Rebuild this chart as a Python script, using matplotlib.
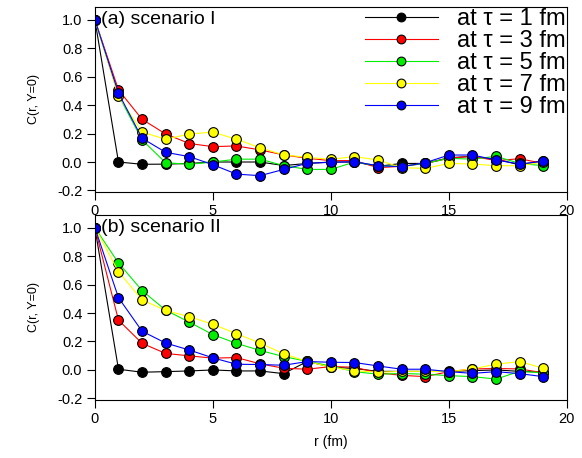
import matplotlib
matplotlib.use('Agg')
import matplotlib.pyplot as plt

plt.rcParams['font.family'] = ['Liberation Sans', 'DejaVu Sans']

r = list(range(20))
taus = [1, 3, 5, 7, 9]
colors = ['black', 'red', '#00ee00', 'yellow', 'blue']

# scenario I
a_t1 = [1.0, 0.00, -0.016, -0.015, -0.01, 0.0, 0.0, 0.0, -0.025, -0.01, 0.0, 0.0,
        -0.03, -0.01, -0.01, 0.03, 0.04, 0.02, -0.02, 0.01]
a_t3 = [1.0, 0.507, 0.30, 0.197, 0.13, 0.108, 0.113, 0.085, 0.05, 0.026, 0.01, 0.01,
        -0.04, -0.03, -0.01, 0.026, 0.04, 0.01, 0.023, -0.01]
a_t5 = [1.0, 0.47, 0.155, -0.005, -0.016, 0.0, 0.02, 0.02, -0.025, -0.052, -0.052, 0.0,
        -0.026, -0.03, -0.01, 0.026, 0.02, 0.04, -0.01, -0.026]
a_t7 = [1.0, 0.465, 0.21, 0.16, 0.197, 0.21, 0.16, 0.10, 0.05, 0.033, 0.019, 0.038,
        0.014, -0.04, -0.045, -0.01, -0.014, -0.026, -0.026, 0.0]
a_t9 = [1.0, 0.484, 0.167, 0.068, 0.038, -0.019, -0.085, -0.096, -0.052, -0.009, -0.002, 0.002,
        -0.026, -0.033, -0.005, 0.049, 0.049, 0.014, -0.014, 0.005]

# scenario II
b_t1 = [1.0, 0.005, -0.016, -0.012, -0.007, 0.0, -0.007, -0.007, -0.026, 0.06, 0.02, 0.01,
        -0.01, -0.01, -0.01, -0.01, -0.005, 0.0, -0.01, -0.015]
b_t3 = [1.0, 0.35, 0.187, 0.116, 0.099, 0.083, 0.087, 0.043, 0.012, 0.005, 0.024, 0.019,
        -0.02, -0.038, -0.047, -0.012, 0.007, 0.01, 0.007, -0.02]
b_t5 = [1.0, 0.752, 0.558, 0.42, 0.336, 0.248, 0.187, 0.137, 0.094, 0.06, 0.028, -0.012,
        -0.03, -0.025, -0.03, -0.04, -0.047, -0.064, -0.01, -0.02]
b_t7 = [1.0, 0.69, 0.492, 0.418, 0.374, 0.321, 0.255, 0.189, 0.113, 0.06, 0.019, -0.005,
        -0.016, -0.01, -0.01, -0.012, 0.007, 0.04, 0.059, 0.012]
b_t9 = [1.0, 0.508, 0.272, 0.189, 0.14, 0.085, 0.04, 0.038, 0.033, 0.059, 0.054, 0.052,
        0.028, 0.005, 0.005, -0.012, -0.024, -0.012, -0.026, -0.047]

panels = [
    ('(a) scenario I', [a_t1, a_t3, a_t5, a_t7, a_t9]),
    ('(b) scenario II', [b_t1, b_t3, b_t5, b_t7, b_t9]),
]

fig = plt.figure(figsize=(5.82, 4.58), dpi=100)
boxes = [[0.163, 0.581, 0.811, 0.404], [0.163, 0.127, 0.811, 0.404]]

for i, (title, series) in enumerate(panels):
    ax = fig.add_axes(boxes[i])
    for tau, col, vals in zip(taus, colors, series):
        ax.plot(r, vals, '-o', color=col, lw=0.8, ms=7, mfc=col, mec='black',
                mew=0.8, label='at \u03c4 = %d fm' % tau)
    ax.set_xlim(0, 20)
    ax.set_ylim(-0.21, 1.09)
    ax.set_xticks([0, 5, 10, 15, 20])
    ax.set_yticks([-0.2, 0.0, 0.2, 0.4, 0.6, 0.8, 1.0])
    ax.set_yticklabels(['-0.2', '0.0', '0.2', '0.4', '0.6', '0.8', '1.0'])
    ax.tick_params(direction='out', length=6, labelsize=10.5, width=0.8, pad=3)
    for s in ax.spines.values():
        s.set_linewidth(0.8)
    ax.set_ylabel('C(r, Y=0)', fontsize=9, labelpad=12)
    ax.text(0.012, 0.975, title, transform=ax.transAxes, fontsize=14,
            va='top', ha='left')
    if i == 0:
        ax.legend(loc='upper right', frameon=False, fontsize=17,
                  handlelength=3.1, labelspacing=0.0, borderaxespad=0.0,
                  borderpad=0.05, handletextpad=0.8, markerscale=0.9)
    else:
        ax.set_xlabel('r (fm)', fontsize=10, labelpad=6)

fig.savefig('out.png', dpi=100)
